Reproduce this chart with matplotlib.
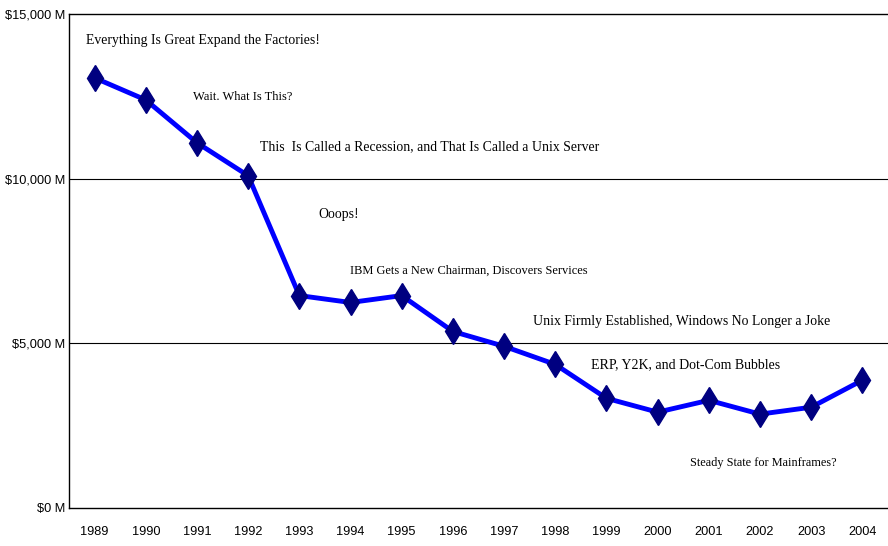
import matplotlib.pyplot as plt

# mainframe revenue by year ($M)
years = ['1989', '1990', '1991', '1992', '1993', '1994', '1995', '1996',
         '1997', '1998', '1999', '2000', '2001', '2002', '2003', '2004']
revenue = [13060, 12390, 11090, 10090, 6450, 6240, 6450, 5360,
           4910, 4360, 3330, 2910, 3270, 2850, 3060, 3880]

y_ticks = [0, 5000, 10000, 15000]
y_labels = ['$0 M', '$5,000 M', '$10,000 M', '$15,000 M']

notes = ['Everything Is Great Expand the Factories!',
         'Wait. What Is This?',
         'This  Is Called a Recession, and That Is Called a Unix Server',
         'Ooops!',
         'IBM Gets a New Chairman, Discovers Services',
         'Unix Firmly Established, Windows No Longer a Joke',
         'ERP, Y2K, and Dot-Com Bubbles',
         'Steady State for Mainframes?']

fig = plt.figure(figsize=(8.88, 5.46), dpi=100)
ax = fig.add_axes([0.0777, 0.0696, 0.9223, 0.9048])

x = list(range(len(years)))
ax.plot(x, revenue, color='#0000ff', lw=3.5, marker='d', markersize=13,
        markerfacecolor='#000080', markeredgecolor='#000080', zorder=3)

ax.set_xlim(-0.5, len(years) - 0.5)
ax.set_ylim(0, 15000)
ax.set_xticks(x)
ax.set_xticklabels(years, fontsize=9.2, family='Liberation Sans')
ax.set_yticks(y_ticks)
ax.set_yticklabels(y_labels, fontsize=9.2, family='Liberation Sans')
ax.tick_params(length=0, pad=3)
ax.tick_params(axis='x', pad=13)

for yv in y_ticks[1:3]:
    ax.axhline(yv, color='black', lw=0.8, zorder=1)

ax.spines['right'].set_visible(False)
for s in ['left', 'top', 'bottom']:
    ax.spines[s].set_linewidth(1.0)

# annotation placement (axes fraction) and sizes
note_pos = [(0.021, 0.947), (0.151, 0.832), (0.233, 0.731), (0.304, 0.595),
            (0.343, 0.480), (0.567, 0.377), (0.637, 0.291), (0.758, 0.091)]
note_size = [9.9, 9.0, 9.9, 9.9, 8.9, 9.9, 10, 8.8]
for txt, (px, py), fs in zip(notes, note_pos, note_size):
    ax.text(px, py, txt, transform=ax.transAxes, fontsize=fs,
            family='Liberation Serif', va='center', ha='left')

fig.savefig('out.png', dpi=100)
